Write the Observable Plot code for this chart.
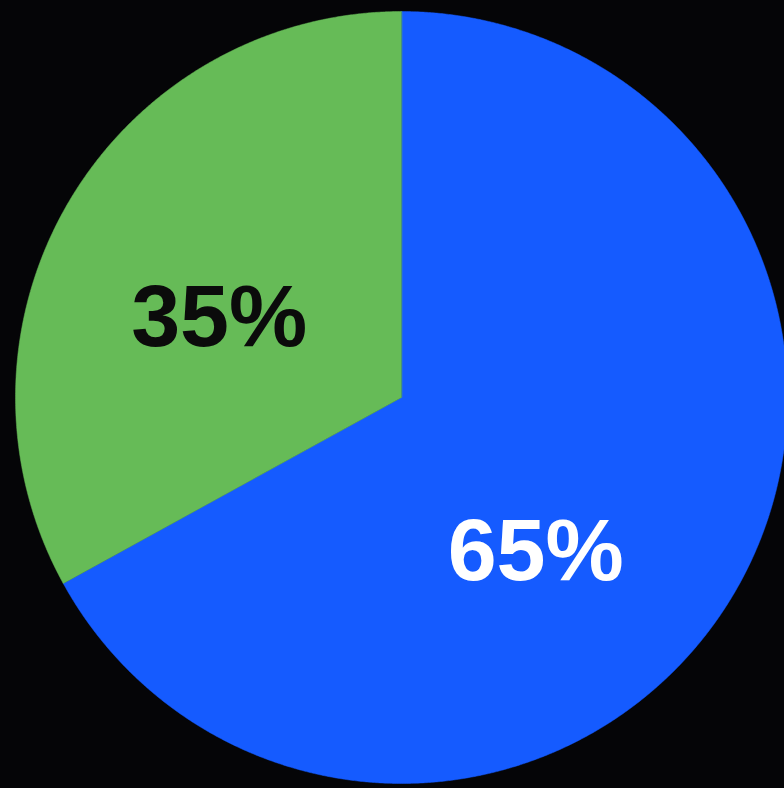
<!DOCTYPE html>
<html>
<head>
<meta charset="utf-8">
<script src="https://cdn.jsdelivr.net/npm/d3@7"></script>
<script src="https://cdn.jsdelivr.net/npm/@observablehq/plot@0.6"></script>
<style>
  html, body { margin: 0; padding: 0; background: #050507; }
  #chart svg { display: block; }
</style>
</head>
<body>
<div id="chart"></div>
<script>
// Data
const categories = ["Majority", "Minority"];
const sliceShare = [67, 33];          // drawn angular share (as pictured)
const labels = ["65%", "35%"];
const colors = ["#155bff", "#66bb57"];
const labelColors = ["#ffffff", "#0b0b0b"];

// Layout constants
const W = 784, H = 788;
const cx = 401, cy = 397, R = 386;
const labelPlace = [{ang: 139, r: 0.53}, {ang: 293.5, r: 0.515}];

const total = d3.sum(sliceShare);
const pts = [];
let start = 0;
categories.forEach((c, i) => {
  const end = start + sliceShare[i] / total * 360;
  pts.push({cat: c, x: 0, y: 0});
  for (let a = start; a <= end + 1e-9; a += 0.25) {
    const t = a * Math.PI / 180;
    pts.push({cat: c, x: Math.sin(t), y: Math.cos(t)});
  }
  const te = end * Math.PI / 180;
  pts.push({cat: c, x: Math.sin(te), y: Math.cos(te)});
  start = end;
});

const labelData = categories.map((c, i) => {
  const t = labelPlace[i].ang * Math.PI / 180;
  return {cat: c, text: labels[i], color: labelColors[i],
          x: labelPlace[i].r * Math.sin(t), y: labelPlace[i].r * Math.cos(t)};
});

const chart = Plot.plot({
  width: W, height: H,
  margin: 0,
  style: {background: "#050507", overflow: "visible"},
  x: {domain: [-cx / R, (W - cx) / R], axis: null},
  y: {domain: [-(H - cy) / R, cy / R], axis: null},
  color: {type: "categorical", domain: categories, range: colors},
  marks: [
    Plot.line(pts, {x: "x", y: "y", z: "cat", fill: "cat", stroke: "cat", strokeWidth: 0.5, curve: "linear-closed"}),
    Plot.text(labelData, {x: "x", y: "y", text: "text", fill: d => d.color,
      fontSize: 88, fontWeight: "bold", fontFamily: "Liberation Sans, Arial, sans-serif",
      textAnchor: "middle"})
  ]
});
document.getElementById("chart").appendChild(chart);
</script>
</body>
</html>
